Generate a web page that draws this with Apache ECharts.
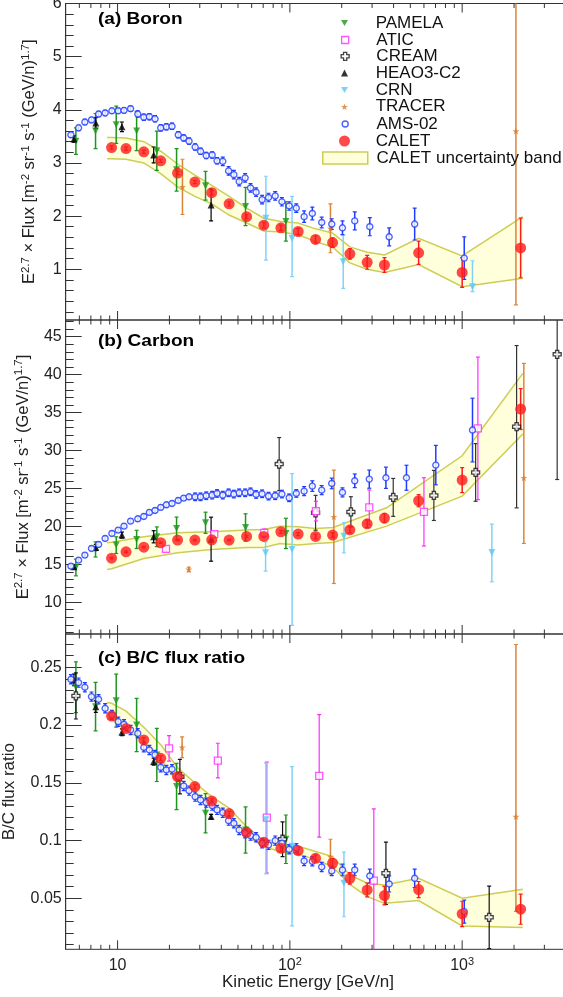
<!DOCTYPE html>
<html><head><meta charset="utf-8">
<script src="https://cdn.jsdelivr.net/npm/echarts@6/dist/echarts.min.js"></script>
<style>html,body{margin:0;padding:0;background:#fff}#c{width:563px;height:997px}</style>
</head><body><div id="c"></div>
<script>
// ---------------- DATA ----------------
// x-axis ticks (GeV/n)
const xMajor = [10, 100, 1000];
const xMinor = [6,7,8,9,20,30,40,50,60,70,80,90,200,300,400,500,600,700,800,900,2000,3000,4000];
// y tick labels
const yaMajor = [1,2,3,4,5,6];
const ybMajor = [10,15,20,25,30,35,40,45];
const ycMajor = [0.05,0.1,0.15,0.2,0.25];

// CALET
const calE   = [9.23,11.2,14.2,17.8,22.3,28.1,35.2,44.4,56.1,70.6,88.7,111.7,141,177,223,281,354,559,1000,2185];
const calB   = [3.29,3.27,3.21,3.04,2.81,2.64,2.44,2.23,1.99,1.83,1.78,1.71,1.56,1.50,1.29,1.13,1.08,1.31,0.94,1.40];
const calBErr= [0.03,0.03,0.03,0.03,0.03,0.03,0.04,0.04,0.04,0.05,0.05,0.06,0.07,0.09,0.1,0.13,0.14,0.22,0.28,0.56];
const calC   = [15.80,16.64,17.25,17.83,18.18,18.18,18.22,18.18,18.66,18.66,19.28,18.97,18.66,18.84,19.54,20.33,21.08,23.37,26.09,35.46];
const calCErr= [0.1,0.1,0.1,0.1,0.1,0.1,0.1,0.1,0.15,0.15,0.2,0.2,0.3,0.3,0.4,0.5,0.6,0.8,1.65,2.7];
const calBC  = [0.2078,0.1969,0.1871,0.1712,0.1553,0.1467,0.1342,0.1233,0.1071,0.0985,0.0933,0.0912,0.0846,0.0803,0.0673,0.0572,0.0523,0.0575,0.0364,0.0405];
const calBCErr=[0.002,0.002,0.002,0.002,0.002,0.002,0.002,0.002,0.002,0.002,0.003,0.003,0.003,0.004,0.005,0.006,0.008,0.007,0.011,0.013];

// CALET uncertainty bands
const bandBE  = [8.7,9.23,11.2,14.2,17.8,22.3,28.1,35.2,44.4,56.1,70.6,88.7,111.7,141,177,223,281,354,559,1000,2250];
const bandBHi = [3.48,3.48,3.47,3.40,3.22,2.98,2.77,2.58,2.37,2.15,1.96,1.90,1.87,1.76,1.68,1.42,1.32,1.27,1.58,1.25,1.99];
const bandBLo = [3.08,3.08,3.07,3.00,2.80,2.55,2.37,2.23,2.02,1.87,1.72,1.70,1.65,1.52,1.42,1.12,1.00,0.94,1.09,0.67,0.83];
const bandCE  = [8.7,9.23,14.2,22.3,35.2,56.1,70.6,87.5,111.7,141,178,364,1000,2250];
const bandCHi = [17.83,17.9,18.62,19.14,19.28,19.5,19.58,20.02,19.94,19.72,19.85,22.44,29.3,40.16];
const bandCLo = [14.31,14.4,15.76,16.5,16.95,17.21,17.2,17.74,17.52,17.74,17.87,20.02,23.98,32.16];
const bandBCE = [8.7,9.23,11.2,14.2,17.8,22.3,28.1,35.2,44.4,56.1,70.6,88.7,111.7,141,177,223,281,354,559,1000,2250];
const bandBCHi= [0.2194,0.2188,0.212,0.198,0.183,0.163,0.150,0.138,0.128,0.112,0.100,0.096,0.095,0.0904,0.0861,0.0702,0.0630,0.0615,0.0673,0.0500,0.0578];
const bandBCLo= [0.205,0.205,0.196,0.186,0.170,0.150,0.142,0.130,0.119,0.104,0.095,0.090,0.0884,0.0832,0.0774,0.062,0.0514,0.0456,0.0480,0.0260,0.0246];

// AMS-02
const amsBE = [5.36,5.94,6.46,7.06,7.76,8.47,9.27,10.08,10.9,11.9,13.1,14.2,15.3,16.5,17.8,19.2,20.7,22.5,24.2,26.0,28.2,30.3,32.7,35.4,37.8,40.8,44.1,47.3,50.8,55.0,59.1,63.7,69.0,75.2,82.2,89.9,99.1,109,121,135,153,175,202,238,291,377,530,1028];
const amsB  = [3.53,3.66,3.77,3.81,3.92,3.94,3.98,3.98,3.99,4.02,3.92,3.86,3.87,3.83,3.66,3.68,3.69,3.53,3.47,3.41,3.30,3.22,3.14,3.15,3.04,3.03,2.85,2.78,2.65,2.72,2.53,2.45,2.31,2.35,2.38,2.27,2.19,2.15,1.99,2.05,1.88,1.85,1.78,1.91,1.80,1.61,1.85,1.21];
const amsBErr=[0.05,0.05,0.05,0.05,0.05,0.05,0.05,0.05,0.05,0.05,0.06,0.06,0.06,0.06,0.06,0.06,0.06,0.06,0.06,0.06,0.06,0.06,0.06,0.06,0.06,0.08,0.08,0.08,0.08,0.08,0.08,0.08,0.08,0.08,0.08,0.08,0.08,0.08,0.11,0.12,0.1,0.1,0.13,0.17,0.17,0.17,0.3,0.4];
const amsCE = [5.36,5.94,6.46,7.06,7.76,8.47,9.27,10.08,10.9,11.9,13.1,14.2,15.3,16.5,17.8,19.2,20.7,22.5,24.2,26.0,28.2,30.3,32.7,35.4,37.8,40.8,44.1,47.3,50.8,55.0,59.1,63.7,69.0,75.2,82.2,89.9,99.1,109,121,135,153,175,202,238,289,361,475,703,1148];
const amsC  = [14.75,15.54,16.2,17.08,17.61,18.40,19.06,19.50,20.02,20.68,20.99,21.30,21.83,22.09,22.49,22.84,23.01,23.41,23.72,23.89,23.89,23.89,24.03,24.11,24.33,24.11,24.42,24.25,24.42,24.42,24.55,24.2,24.29,23.98,24.03,24.25,23.76,24.33,24.64,25.30,24.77,25.65,24.47,26.0,26.22,26.4,26.4,28.07,32.69];
const amsCErr=[0.3,0.3,0.3,0.3,0.3,0.3,0.3,0.3,0.3,0.3,0.3,0.3,0.3,0.3,0.3,0.3,0.3,0.3,0.3,0.3,0.5,0.5,0.5,0.5,0.5,0.5,0.5,0.5,0.5,0.5,0.5,0.5,0.5,0.5,0.5,0.5,0.5,0.5,0.6,0.7,0.6,0.7,0.6,0.9,1.2,1.4,1.65,2.6,4.2];
const amsBC = [0.2396,0.2367,0.2327,0.2246,0.2223,0.2145,0.2087,0.2029,0.2006,0.1957,0.1928,0.1807,0.1784,0.1741,0.1634,0.1611,0.1617,0.1553,0.1472,0.1432,0.1380,0.1351,0.1328,0.1302,0.1265,0.1241,0.1172,0.1149,0.1091,0.1063,0.1042,0.1028,0.0976,0.0962,0.0999,0.0976,0.0924,0.0933,0.0823,0.0820,0.0771,0.0736,0.0745,0.0745,0.0693,0.0624,0.0673,0.0384];
const amsBCErr=[0.004,0.004,0.004,0.004,0.004,0.004,0.004,0.004,0.004,0.004,0.004,0.004,0.004,0.004,0.004,0.004,0.004,0.004,0.004,0.004,0.004,0.004,0.004,0.004,0.004,0.004,0.004,0.004,0.004,0.004,0.004,0.004,0.004,0.004,0.004,0.004,0.004,0.004,0.004,0.004,0.004,0.004,0.005,0.005,0.006,0.007,0.008,0.01];

// PAMELA
const pamE    = [5.73,7.45,9.82,12.9,16.9,22.0,32.4,55.3,94.8];
const pamB    = [3.41,3.60,3.72,3.60,3.23,2.87,2.57,2.18,1.90];
const pamBErr = [0.25,0.33,0.35,0.37,0.37,0.4,0.27,0.36,0.37];
const pamC    = [14.57,16.95,17.52,18.27,18.62,19.72,20.46,19.85,19.06];
const pamCErr = [1.1,1.0,1.1,1.2,1.3,1.5,1.4,1.8,2.0];
const pamBC   = [0.2327,0.2159,0.2211,0.2000,0.1741,0.1467,0.1236,0.1091,0.1011];
const pamBCErr= [0.022,0.021,0.023,0.023,0.023,0.02,0.017,0.02,0.021];

// HEAO3-C2
const heaE    = [5.58,7.48,10.6,16.2,34.9];
const heaB    = [3.45,3.75,3.68,3.15,2.21];
const heaBErr = [0.06,0.1,0.09,0.15,0.3];
const heaC    = [14.66,17.21,18.84,18.62,18.3];
const heaCErr = [0.3,0.4,0.4,0.8,2.9];
const heaBC   = [0.239,0.2159,0.1937,0.1683,0.1207];
const heaBCErr= [0.005,0.005,0.003,0.003,0.002];

// CREAM
const creCE   = [86.7,141,226,398,685,1197,2070,3560];
const creC    = [28.2,21.78,21.9,23.81,24.07,27.1,33.13,42.67];
const creCErr = [3.5,2.3,2.0,2.5,3.3,3.8,10.7,16.5];
const creBCE  = [5.73,23.0,90.7,361,1435];
const creBC   = [0.2252,0.1553,0.1011,0.0716,0.0335];
const creBCErr= [0.02,0.015,0.015,0.027,0.027];

// ATIC
const atiCE   = [19.1,36.4,71.0,141.6,289,600,1234];
const atiC    = [17.03,18.97,19.14,22.0,22.49,21.9,32.91];
const atiCErr = [0.3,0.3,0.5,1.3,2.3,4.5,9.4];
const atiBCE  = [19.9,38.2,73.5,148,307];
const atiBC   = [0.1798,0.1692,0.1198,0.156,0.0653];
const atiBCErr= [0.011,0.015,0.048,0.053,0.062];

// TRACER (errors as [down, up] where asymmetric)
const traBE   = [23.8,172,2051];
const traB    = [2.55,1.77,3.60];
const traBErr = [0.52,0.46,[3.27,2.6]];
const traCE   = [25.9,180,2280];
const traC    = [14.31,21.26,26.4];
const traCErr = [0.3,[8.8,6.15],[8.66,15.08]];
const traBCE  = [23.7,172,2051];
const traBC   = [0.1807,0.0861,0.1207];
const traBCErr= [0.009,0.015,[0.082,0.149]];

// CRN
const crnBE   = [72.6,103,204,1148];
const crnB    = [1.96,1.58,1.14,0.67];
const crnBErr = [0.79,[0.72,0.79],0.5,[0.09,0.49]];
const crnCE   = [72.3,103,206,1487];
const crnC    = [16.5,16.95,18.7,16.55];
const crnCErr = [[2.41,1.46],10.0,[2.2,1.76],[3.87,3.74]];
const crnBCE  = [72.6,103,206];
const crnBC   = [0.118,0.095,0.063];
const crnBCErr= [[0.047,0.049],0.069,[0.029,0.027]];

// ---------------- LAYOUT ----------------
const FONT = '"Liberation Sans", Arial, Helvetica, sans-serif';
const AX = '#333';
const G = [
  {top: 3.5, height: 316.5, min: 0.045, max: 6,      major: yaMajor, step: 0.2,  fmt: v => String(v)},
  {top: 320, height: 314,   min: 5.8,   max: 47.2,   major: ybMajor, step: 1,    fmt: v => String(v)},
  {top: 634, height: 315.3, min: 0.0058,max: 0.2788, major: ycMajor, step: 0.01, fmt: v => String(v)}
];
function minorTicks(g) {
  const out = [];
  const n = Math.round((g.max - 0) / g.step);
  for (let k = 1; k <= n; k++) {
    const v = +(k * g.step).toFixed(4);
    if (v <= g.min || v >= g.max) continue;
    if (g.major.some(m => Math.abs(m - v) < g.step / 10)) continue;
    out.push(v);
  }
  return out;
}

const yName = 'E{s|2.7} × Flux [m{s|-2} sr{s|-1} s{s|-1} (GeV/n){s|1.7}]';
const grids = [], xAxes = [], yAxes = [];
G.forEach((g, i) => {
  grids.push({left: 65.7, width: 500.2, top: g.top, height: g.height, show: true,
    borderColor: AX, borderWidth: 1, backgroundColor: 'transparent', outerBoundsMode: 'none', containLabel: false});
  xAxes.push({gridIndex: i, type: 'log', logBase: 10, min: 5, max: 4000,
    axisLine: {show: false}, axisTick: {show: false}, splitLine: {show: false}, minorTick: {show: false},
    axisLabel: i === 2 ? {
      show: true, margin: 7, color: '#222', fontFamily: FONT, fontSize: 16, lineHeight: 18,
      showMinLabel: false, showMaxLabel: false,
      formatter: v => { const l = Math.log10(v); const p = Math.round(l); if (Math.abs(l - p) > 1e-6) return ''; return p === 1 ? '10' : '10{s|' + p + '}'; },
      rich: {s: {fontSize: 11, fontFamily: FONT, color: '#222', verticalAlign: 'top', lineHeight: 10}}
    } : {show: false}
  });
  yAxes.push({gridIndex: i, type: 'value', position: 'left', min: g.min, max: g.max,
    axisLine: {show: true, lineStyle: {color: AX, width: 1}},
    axisTick: {show: true, inside: true, length: 16, lineStyle: {color: AX}, customValues: g.major},
    axisLabel: {show: true, customValues: g.major, margin: 4, color: '#222', fontFamily: FONT, fontSize: 16, formatter: g.fmt},
    splitLine: {show: false},
    name: i === 2 ? 'B/C flux ratio' : yName,
    nameLocation: 'middle', nameRotate: 90, nameGap: i === 2 ? 41 : 26,
    nameTextStyle: {fontFamily: FONT, fontSize: i === 2 ? 17 : 16.5, color: '#222', lineHeight: 20,
      rich: {s: {fontFamily: FONT, fontSize: 11.5, color: '#222', verticalAlign: 'top', lineHeight: 12}}}
  });
  yAxes.push({gridIndex: i, type: 'value', position: 'left', offset: 0, min: g.min, max: g.max,
    axisLine: {show: false},
    axisTick: {show: true, inside: true, length: 8, lineStyle: {color: AX}, customValues: minorTicks(g)},
    axisLabel: {show: false}, splitLine: {show: false}
  });
});

const series = [];
// x ticks (top & bottom of each panel) drawn through the log axis
const xTickData = xMajor.map(v => [v, 1]).concat(xMinor.map(v => [v, 0]));
G.forEach((g, i) => {
  series.push({type: 'custom', name: 'xt' + i, xAxisIndex: i, yAxisIndex: 2 * i, silent: true, clip: false, z: 10,
    data: xTickData, encode: {x: 0},
    renderItem: (p, api) => {
      const v = api.value(0), len = api.value(1) ? 9 : 4.5;
      const b = api.coord([v, g.min]), t = api.coord([v, g.max]);
      return {type: 'group', children: [
        {type: 'line', shape: {x1: b[0], y1: b[1], x2: b[0], y2: b[1] - len}, style: {stroke: AX, lineWidth: 1}},
        {type: 'line', shape: {x1: t[0], y1: t[1], x2: t[0], y2: t[1] + len}, style: {stroke: AX, lineWidth: 1}}
      ]};
    }});
});

const BAND_FILL = '#ffffdc', BAND_LINE = '#cdcd55';
function addBand(i, E, lo, hi) {
  series.push({type: 'custom', name: 'CALET uncertainty band', xAxisIndex: i, yAxisIndex: 2 * i, silent: true, clip: true, z: 1,
    data: E.map((e, k) => [e, lo[k], hi[k]]), encode: {x: 0, y: [1, 2]},
    itemStyle: {color: BAND_FILL, borderColor: BAND_LINE},
    renderItem: (p, api) => {
      if (p.dataIndex !== 0) return null;
      const up = E.map((e, k) => api.coord([e, hi[k]]));
      const dn = E.map((e, k) => api.coord([e, lo[k]]));
      return {type: 'group', children: [
        {type: 'polygon', shape: {points: up.concat(dn.slice().reverse())}, style: {fill: BAND_FILL, stroke: null}},
        {type: 'polyline', shape: {points: up}, style: {stroke: BAND_LINE, lineWidth: 1.5, fill: null}},
        {type: 'polyline', shape: {points: dn}, style: {stroke: BAND_LINE, lineWidth: 1.5, fill: null}}
      ]};
    }});
}
function addErr(i, E, V, ERR, color, w) {
  series.push({type: 'custom', name: 'err', xAxisIndex: i, yAxisIndex: 2 * i, silent: true, clip: true, z: 2,
    data: E.map((e, k) => { const er = ERR[k]; const d = Array.isArray(er) ? er[0] : er; const u = Array.isArray(er) ? er[1] : er; return [e, V[k] - d, V[k] + u]; }),
    encode: {x: 0, y: [1, 2]},
    renderItem: (p, api) => {
      const x = api.value(0);
      const a = api.coord([x, api.value(1)]), b = api.coord([x, api.value(2)]);
      const c = 2;
      return {type: 'group', children: [
        {type: 'line', shape: {x1: a[0], y1: a[1], x2: b[0], y2: b[1]}, style: {stroke: color, lineWidth: w}},
        {type: 'line', shape: {x1: a[0] - c, y1: a[1], x2: a[0] + c, y2: a[1]}, style: {stroke: color, lineWidth: 1.2}},
        {type: 'line', shape: {x1: b[0] - c, y1: b[1], x2: b[0] + c, y2: b[1]}, style: {stroke: color, lineWidth: 1.2}}
      ]};
    }});
}
const CROSS = 'path://M3,0H7V3H10V7H7V10H3V7H0V3H3Z';
const STAR = 'path://M5,0L6.2,3.6L10,3.6L6.9,5.9L8.1,9.5L5,7.3L1.9,9.5L3.1,5.9L0,3.6L3.8,3.6Z';
const DOWN_TRI = 'path://M0,0L10,0L5,8.7Z';
const SYM = {
  'PAMELA':   {symbol: DOWN_TRI, symbolSize: 7, itemStyle: {color: '#1e961e'}},
  'ATIC':     {symbol: 'rect', symbolSize: 7, itemStyle: {color: '#ffffff', borderColor: '#ff2cff', borderWidth: 1.3}},
  'CREAM':    {symbol: CROSS, symbolSize: 8, itemStyle: {color: '#ffffff', borderColor: '#111', borderWidth: 1.3}},
  'HEAO3-C2': {symbol: 'triangle', symbolSize: 7, itemStyle: {color: '#000'}},
  'CRN':      {symbol: DOWN_TRI, symbolSize: 7, itemStyle: {color: '#5ec8f2'}},
  'TRACER':   {symbol: STAR, symbolSize: 7, itemStyle: {color: '#d97a2b'}},
  'AMS-02':   {symbol: 'circle', symbolSize: 6, itemStyle: {color: '#ffffff', borderColor: '#1f3cff', borderWidth: 1.4}},
  'CALET':    {symbol: 'circle', symbolSize: 11, itemStyle: {color: '#ff1a1a'}}
};
function addPts(name, i, E, V, z) {
  series.push(Object.assign({type: 'scatter', name: name, xAxisIndex: i, yAxisIndex: 2 * i, silent: true, clip: true, z: z || 3,
    data: E.map((e, k) => [e, V[k]])}, SYM[name]));
}

// panel (a) Boron
addBand(0, bandBE, bandBLo, bandBHi);
addErr(0, pamE, pamB, pamBErr, '#1e961e', 1.5);
addErr(0, heaE, heaB, heaBErr, '#000', 1.2);
addErr(0, crnBE, crnB, crnBErr, '#7fd3f7', 1.5);
addErr(0, traBE, traB, traBErr, '#d9863a', 1.5);
addErr(0, amsBE, amsB, amsBErr, '#1f3cff', 1.5);
addErr(0, calE, calB, calBErr, '#ff1a1a', 1.5);
addPts('PAMELA', 0, pamE, pamB);
addPts('HEAO3-C2', 0, heaE, heaB);
addPts('CRN', 0, crnBE, crnB);
addPts('TRACER', 0, traBE, traB);
addPts('AMS-02', 0, amsBE, amsB);
addPts('CALET', 0, calE, calB, 4);
// panel (b) Carbon
addBand(1, bandCE, bandCLo, bandCHi);
addErr(1, pamE, pamC, pamCErr, '#1e961e', 1.5);
addErr(1, heaE, heaC, heaCErr, '#000', 1.2);
addErr(1, creCE, creC, creCErr, '#333', 1.2);
addErr(1, atiCE, atiC, atiCErr, '#ff2cff', 1.2);
addErr(1, crnCE, crnC, crnCErr, '#7fd3f7', 1.5);
addErr(1, traCE, traC, traCErr, '#d9863a', 1.5);
addErr(1, amsCE, amsC, amsCErr, '#1f3cff', 1.5);
addErr(1, calE, calC, calCErr, '#ff1a1a', 1.5);
addPts('PAMELA', 1, pamE, pamC);
addPts('HEAO3-C2', 1, heaE, heaC);
addPts('CREAM', 1, creCE, creC);
addPts('ATIC', 1, atiCE, atiC);
addPts('CRN', 1, crnCE, crnC);
addPts('TRACER', 1, traCE, traC);
addPts('AMS-02', 1, amsCE, amsC);
addPts('CALET', 1, calE, calC, 4);
// panel (c) B/C
addBand(2, bandBCE, bandBCLo, bandBCHi);
addErr(2, pamE, pamBC, pamBCErr, '#1e961e', 1.5);
addErr(2, heaE, heaBC, heaBCErr, '#000', 1.2);
addErr(2, creBCE, creBC, creBCErr, '#111', 1.2);
addErr(2, atiBCE, atiBC, atiBCErr, '#ff2cff', 1.2);
addErr(2, crnBCE, crnBC, crnBCErr, '#7fd3f7', 1.5);
addErr(2, traBCE, traBC, traBCErr, '#d9863a', 1.5);
addErr(2, amsBE, amsBC, amsBCErr, '#1f3cff', 1.5);
addErr(2, calE, calBC, calBCErr, '#ff1a1a', 1.5);
addPts('PAMELA', 2, pamE, pamBC);
addPts('HEAO3-C2', 2, heaE, heaBC);
addPts('CREAM', 2, creBCE, creBC);
addPts('ATIC', 2, atiBCE, atiBC);
addPts('CRN', 2, crnBCE, crnBC);
addPts('TRACER', 2, traBCE, traBC);
addPts('AMS-02', 2, amsBE, amsBC);
addPts('CALET', 2, calE, calBC, 4);

// legend: one component per row so each marker keeps its own size
const legendRows = [
  {name: 'PAMELA', y: 23}, {name: 'ATIC', y: 40}, {name: 'CREAM', y: 56.3}, {name: 'HEAO3-C2', y: 73},
  {name: 'CRN', y: 90}, {name: 'TRACER', y: 106.7}, {name: 'AMS-02', y: 124}, {name: 'CALET', y: 141},
  {name: 'CALET uncertainty band', y: 158}
];
const ICON_CX = 344.5, TEXT_X = 375.7;
const legends = legendRows.map(r => {
  const isBand = r.name === 'CALET uncertainty band';
  const s = isBand ? SYM.CALET : SYM[r.name];
  const w = isBand ? 45 : s.symbolSize, h = isBand ? 12 : s.symbolSize;
  const item = isBand
    ? {name: r.name, icon: 'rect', itemStyle: {color: BAND_FILL, borderColor: BAND_LINE, borderWidth: 1.5}}
    : {name: r.name, icon: s.symbol, itemStyle: Object.assign({}, s.itemStyle)};
  return {
    show: true, orient: 'vertical', left: ICON_CX - w / 2, top: r.y - Math.max(h, 17) / 2, padding: 0,
    itemWidth: w, itemHeight: h, selectedMode: false,
    textStyle: {fontFamily: FONT, fontSize: 17, color: '#111', padding: [0, 0, 0, TEXT_X - (ICON_CX + w / 2 + 5)]},
    data: [item]
  };
});

const titles = [
  {t: '(a) Boron', y: 19}, {t: '(b) Carbon', y: 341}, {t: '(c) B/C flux ratio', y: 658}
];
const graphic = titles.map(o => ({type: 'text', x: 98, y: o.y, scaleX: 1.12, z: 20,
  style: {text: o.t, x: 0, y: 0, align: 'left', verticalAlign: 'middle', font: 'bold 17px ' + FONT, fill: '#000'}}));
graphic.push({type: 'text', x: 308, y: 982, z: 20,
  style: {text: 'Kinetic Energy [GeV/n]', x: 0, y: 0, align: 'center', verticalAlign: 'middle', font: '17px ' + FONT, fill: '#222'}});

const chart = echarts.init(document.getElementById('c'), null, {renderer: 'canvas'});
chart.setOption({
  animation: false,
  backgroundColor: '#fff',
  textStyle: {fontFamily: FONT},
  grid: grids, xAxis: xAxes, yAxis: yAxes,
  legend: legends,
  graphic: graphic,
  series: series
});
</script>
</body></html>
